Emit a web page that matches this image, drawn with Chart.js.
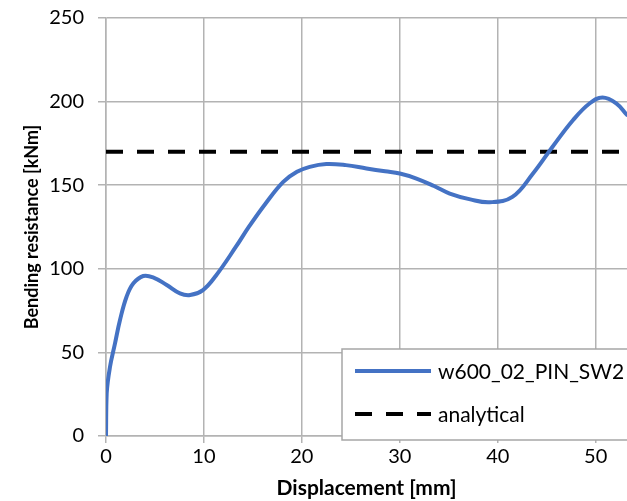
<!DOCTYPE html>
<html>
<head>
<meta charset="utf-8">
<script src="https://cdn.jsdelivr.net/npm/chart.js@4"></script>
<style>
  html, body { margin: 0; padding: 0; background: #fff; }
  #wrap { width: 627px; height: 501px; }
</style>
</head>
<body>
<div id="wrap"><canvas id="chart"></canvas></div>
<script>
// Displacement [mm] and bending resistance [kNm]
const dispMm = [0, 0.07, 0.41, 0.92, 1.43, 2.1, 2.8, 3.8, 4.8, 6.2, 7.55, 8.6, 9.9, 11.2, 13.27, 14.6, 16.3, 18.1, 19.5, 20.8, 22.5, 24.5, 26.6, 28.5, 30, 31.7, 33.5, 35.1, 37.2, 39.2, 41.5, 43.6, 45.6, 47.7, 49.4, 50.7, 52.1, 53.2];
const resistKNm = [0, 25.5, 41.4, 55.4, 69.4, 83.3, 91.3, 95.7, 94.9, 90.3, 85.3, 84.3, 87.3, 95.7, 113.2, 125.2, 139.1, 152, 158, 161, 162.7, 162, 160, 158.3, 157, 154, 149.5, 145, 141.5, 139.8, 143, 157, 173, 189, 199, 202.5, 199, 192];
const analyticalX = [0, 53.2];
const analyticalY = [170, 170];
const xTicks = [0, 10, 20, 30, 40, 50];
const yTicks = [0, 50, 100, 150, 200, 250];

const FONT = 'Lato';

// legend box drawn over the lower right of the plot
const boxLegend = {
  id: 'boxLegend',
  afterDraw(chart) {
    const ctx = chart.ctx;
    const ds = chart.data.datasets;
    ctx.save();
    ctx.fillStyle = '#fff';
    ctx.strokeStyle = '#a6a6a6';
    ctx.lineWidth = 1.5;
    ctx.fillRect(342, 349, 300, 91);
    ctx.strokeRect(342, 349, 300, 91);
    const rows = [371, 414];
    ds.forEach((d, i) => {
      ctx.beginPath();
      ctx.strokeStyle = d.borderColor;
      ctx.lineWidth = 4;
      ctx.setLineDash(d.borderDash || []);
      ctx.moveTo(355, rows[i]);
      ctx.lineTo(431, rows[i]);
      ctx.stroke();
      ctx.setLineDash([]);
      ctx.fillStyle = '#000';
      ctx.font = '21px ' + FONT;
      ctx.textBaseline = 'middle';
      ctx.fillText(d.label, 438, rows[i] + 1);
    });
    ctx.restore();
  }
};

new Chart(document.getElementById('chart'), {
  type: 'scatter',
  data: {
    datasets: [{
      label: 'w600_02_PIN_SW2',
      data: dispMm.map((x, i) => ({ x: x, y: resistKNm[i] })),
      showLine: true,
      borderColor: '#4472C4',
      borderWidth: 4,
      pointRadius: 0,
      tension: 0.4,
      borderCapStyle: 'round',
      borderJoinStyle: 'round'
    }, {
      label: 'analytical',
      data: analyticalX.map((x, i) => ({ x: x, y: analyticalY[i] })),
      showLine: true,
      borderColor: '#000',
      borderWidth: 4,
      borderDash: [17, 14],
      pointRadius: 0
    }]
  },
  options: {
    responsive: true,
    maintainAspectRatio: false,
    animation: false,
    layout: { padding: { top: 18, right: 0, left: 0, bottom: 0 } },
    plugins: {
      legend: { display: false },
      tooltip: { enabled: false }
    },
    scales: {
      x: {
        type: 'linear',
        min: 0,
        max: 53.2,
        afterBuildTicks: s => { s.ticks = xTicks.map(v => ({ value: v })); },
        afterFit: s => { s.height = 65; },
        grid: { color: '#b3b3b3', lineWidth: 1.5, tickLength: 7 },
        border: { color: '#b3b3b3', width: 1.5 },
        ticks: { color: '#000', font: { family: FONT, size: 20 }, padding: 2, maxRotation: 0 },
        title: {
          display: true,
          text: 'Displacement [mm]',
          color: '#000',
          font: { family: FONT, size: 21, weight: 'bold' },
          padding: { top: -6, bottom: 0 }
        }
      },
      y: {
        min: 0,
        max: 250,
        afterBuildTicks: s => { s.ticks = yTicks.map(v => ({ value: v })); },
        afterFit: s => { s.width = 106; s.paddingTop = 0; s.paddingBottom = 0; },
        grid: { color: '#b3b3b3', lineWidth: 1.5, tickLength: 8 },
        border: { color: '#b3b3b3', width: 1.5 },
        ticks: { color: '#000', font: { family: FONT, size: 20 }, padding: 14 },
        title: {
          display: true,
          text: 'Bending resistance [kNm]',
          color: '#000',
          font: { family: FONT, size: 18, weight: 'bold' },
          padding: { top: 21, bottom: 4 }
        }
      }
    }
  },
  plugins: [boxLegend]
});
</script>
</body>
</html>
